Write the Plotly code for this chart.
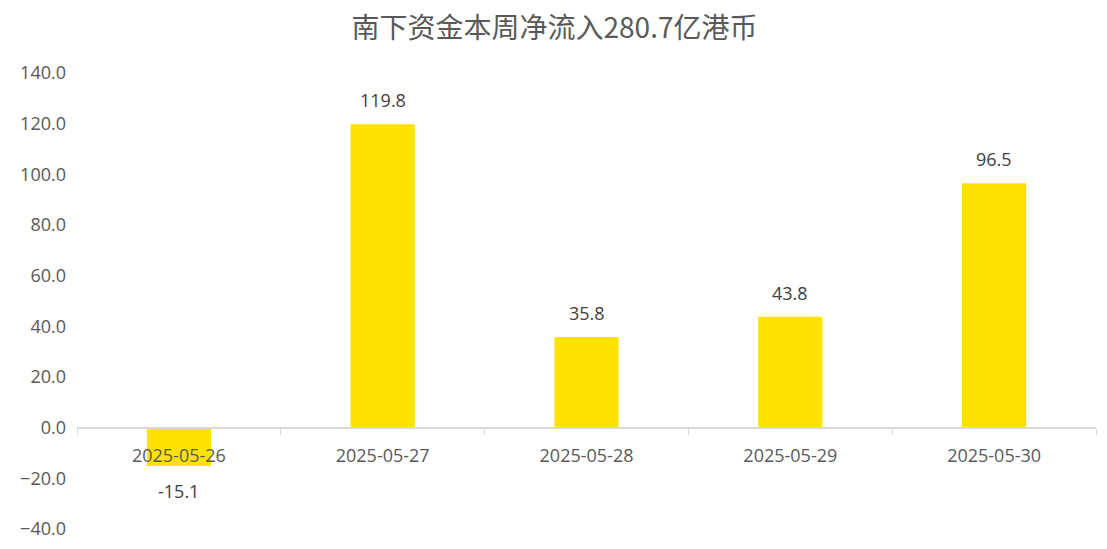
import plotly.graph_objects as go

dates = ["2025-05-26", "2025-05-27", "2025-05-28", "2025-05-29", "2025-05-30"]
values = [-15.1, 119.8, 35.8, 43.8, 96.5]
title_text = "南下资金本周净流入280.7亿港币"

y_min, y_max = -40, 140
num_font = "Open Sans, Noto Sans CJK SC, sans-serif"
title_font = "Noto Sans CJK SC, Microsoft YaHei, sans-serif"

fig = go.Figure()
fig.add_trace(go.Bar(
    x=dates, y=values,
    width=0.315,
    marker=dict(color="#FFE200", line=dict(width=0)),
    cliponaxis=False,
    hoverinfo="x+y",
))

for d, v in zip(dates, values):
    fig.add_annotation(
        x=d, y=v, text=f"{v:.1f}", showarrow=False,
        xanchor="center", yanchor="middle",
        yshift=24 if v >= 0 else -25,
        font=dict(size=18, color="#404040", family=num_font),
    )

zero_pos = (0 - y_min) / (y_max - y_min)

fig.update_layout(
    width=1107, height=549,
    margin=dict(l=77, r=11, t=73, b=20),
    paper_bgcolor="white", plot_bgcolor="white",
    showlegend=False,
    title=dict(text=title_text, x=554.5 / 1107, xanchor="center",
               yref="container", y=1 - 28 / 549, yanchor="middle",
               font=dict(size=28, color="#595959", family=title_font)),
    font=dict(family=num_font, color="#595959", size=18),
    xaxis=dict(
        type="category",
        anchor="free", position=zero_pos,
        showline=True, linecolor="#D9D9D9", linewidth=2,
        ticks="outside", ticklen=6, tickcolor="#D9D9D9", tickwidth=1,
        tickson="boundaries",
        showgrid=False,
        tickfont=dict(size=18, color="#595959", family=num_font),
        ticklabelstandoff=12,
        automargin=False,
    ),
    yaxis=dict(
        range=[y_min, y_max], dtick=20, tick0=0,
        tickformat=".1f",
        showgrid=False, zeroline=False, showline=False,
        ticks="", tickfont=dict(size=18, color="#595959", family=num_font),
        ticklabelstandoff=10,
        domain=[0, 1],
        automargin=False,
    ),
)

fig.write_html("out.html", config={"displayModeBar": False},
               post_script="document.body.style.margin='0';")
